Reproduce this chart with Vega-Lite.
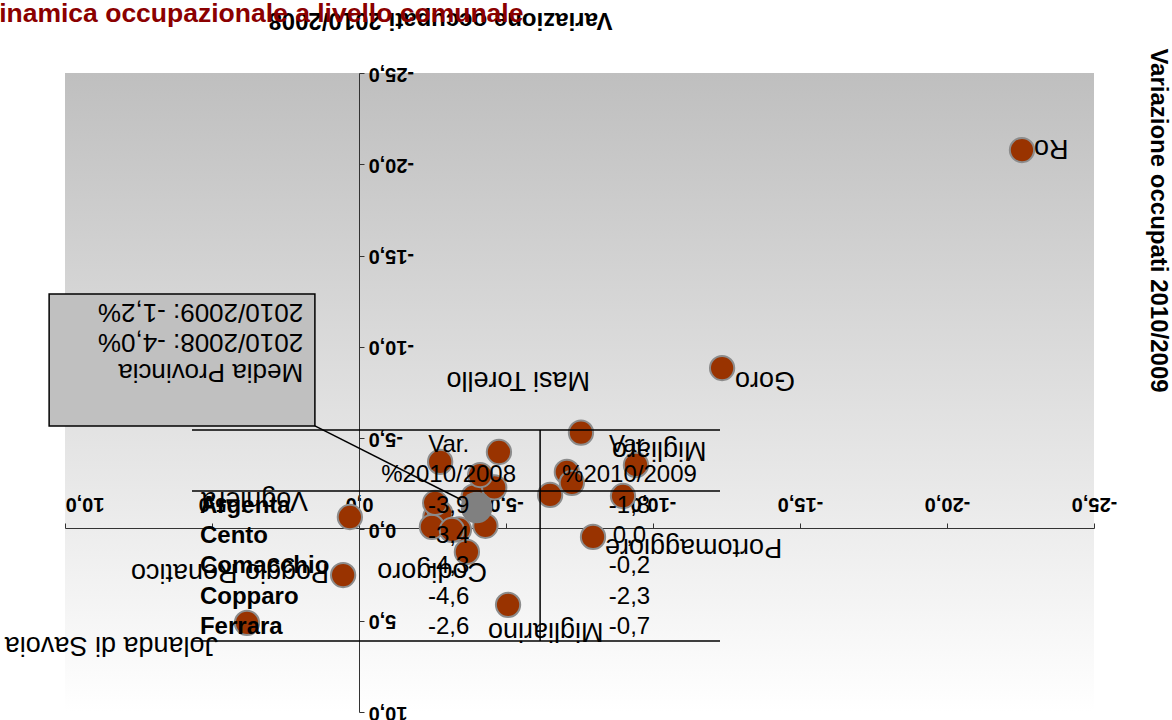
{
  "$schema": "https://vega.github.io/schema/vega-lite/v6.json",
  "width": 1029,
  "height": 639,
  "autosize": {"type": "none"},
  "padding": {"left": 65, "top": 73, "right": 78, "bottom": 8},
  "background": "white",
  "config": {
    "font": "Liberation Sans",
    "view": {"stroke": null, "fill": {"gradient": "linear", "x1": 0, "y1": 0, "x2": 0, "y2": 1, "stops": [{"offset": 0, "color": "#bfbfbf"}, {"offset": 1, "color": "#ffffff"}]}},
    "axis": {"grid": false, "domainColor": "#333333", "tickColor": "#333333", "labelColor": "#000000", "titleColor": "#000000", "labelFont": "Liberation Sans", "titleFont": "Liberation Sans", "labelOverlap": false, "labelFlush": false, "labelBound": false, "zindex": 0}
  },
  "title": {"text": "Dinamica occupazionale a livello comunale", "anchor": "start", "frame": "group", "color": "#8b0000", "font": "Liberation Sans", "fontSize": 26.5, "fontWeight": "bold", "dx": -85, "offset": -41, "baseline": "alphabetic"},
  "datasets": {
    "comuni": [
      {"comune": "Ro", "v08": -22.55, "v09": -20.78},
      {"comune": "Goro", "v08": -12.35, "v09": -8.84},
      {"comune": "Masi Torello", "v08": -7.55, "v09": -5.3},
      {"comune": "Migliaro", "v08": -9.42, "v09": -3.53},
      {"comune": "Portomaggiore", "v08": -7.96, "v09": 0.41},
      {"comune": "Codigoro", "v08": -3.67, "v09": 1.23},
      {"comune": "Migliarino", "v08": -5.07, "v09": 4.13},
      {"comune": "Voghiera", "v08": 0.31, "v09": -0.68},
      {"comune": "Poggio Renatico", "v08": 0.54, "v09": 2.5},
      {"comune": "Jolanda di Savoia", "v08": 3.81, "v09": 5.12},
      {"comune": "Argenta", "v08": -3.9, "v09": -1.8},
      {"comune": "Cento", "v08": -3.4, "v09": 0.0},
      {"comune": "Comacchio", "v08": -4.3, "v09": -0.2},
      {"comune": "Copparo", "v08": -4.6, "v09": -2.3},
      {"comune": "Ferrara", "v08": -2.6, "v09": -0.7},
      {"comune": "", "v08": -2.76, "v09": -3.7},
      {"comune": "", "v08": -4.76, "v09": -4.24},
      {"comune": "", "v08": -4.12, "v09": -2.98},
      {"comune": "", "v08": -6.5, "v09": -1.89},
      {"comune": "", "v08": -7.07, "v09": -3.15},
      {"comune": "", "v08": -7.24, "v09": -2.55},
      {"comune": "", "v08": -8.98, "v09": -1.83},
      {"comune": "", "v08": -2.76, "v09": -0.9},
      {"comune": "", "v08": -2.48, "v09": -0.14},
      {"comune": "", "v08": -3.16, "v09": 0.03},
      {"comune": "", "v08": -2.59, "v09": -1.45}
    ],
    "media": [
      {"comune": "Media Provincia", "v08": -4.0, "v09": -1.2}
    ],
    "tabella": [
      {"riga": "h1", "comune": "", "c08": "Var.", "c09": "Var."},
      {"riga": "h2", "comune": "", "c08": "%2010/2008", "c09": "%2010/2009"},
      {"riga": "Argenta", "comune": "Argenta", "c08": "-3,9", "c09": "-1,8"},
      {"riga": "Cento", "comune": "Cento", "c08": "-3,4", "c09": "0,0"},
      {"riga": "Comacchio", "comune": "Comacchio", "c08": "-4,3", "c09": "-0,2"},
      {"riga": "Copparo", "comune": "Copparo", "c08": "-4,6", "c09": "-2,3"},
      {"riga": "Ferrara", "comune": "Ferrara", "c08": "-2,6", "c09": "-0,7"}
    ]
  },
  "resolve": {"scale": {"y": "independent"}},
  "layer": [
    {
      "layer": [
        {
          "data": {"values": [{}]},
          "mark": {"type": "rule", "color": "#000000", "strokeWidth": 1.5},
          "encoding": {"x": {"datum": 1.5}, "y": {"datum": -5.67}, "x2": {"datum": -4.0}, "y2": {"datum": -1.2}}
        },
        {
          "data": {"name": "comuni"},
          "mark": {"type": "circle", "size": 590, "fill": "#993300", "stroke": "#8c8c8c", "strokeWidth": 2, "opacity": 1},
          "encoding": {
            "x": {"field": "v08", "type": "quantitative",
              "scale": {"domain": [-25, 10], "reverse": true, "nice": false, "zero": false},
              "axis": {"orient": "top", "offset": -455, "values": [10, 5, 0, -5, -10, -15, -20, -25],
                "labelExpr": "replace(replace(format(datum.value, '.1f'), '.', ','), '\u2212', '-')",
                "labelAngle": 180, "labelBaseline": "top",
                "labelAlign": {"condition": {"test": "datum.value == 10", "value": "right"}, "value": "center"},
                "labelFontSize": 20, "labelFontWeight": "bold", "labelPadding": 10, "tickSize": 5,
                "title": "Variazione occupati 2010/2008", "titleAngle": 180, "titleX": 375, "titleY": -509,
                "titleFontSize": 24, "titleFontWeight": "bold", "titleAlign": "center", "titleBaseline": "middle"}},
            "y": {"field": "v09", "type": "quantitative",
              "scale": {"domain": [-25, 10], "reverse": true, "nice": false, "zero": false},
              "axis": {"orient": "right", "offset": -735, "values": [-25, -20, -15, -10, -5, 0, 5, 10],
                "labelExpr": "replace(replace(format(datum.value, '.1f'), '.', ','), '\u2212', '-')",
                "labelAngle": 180, "labelAlign": "right", "labelBaseline": "middle",
                "labelFontSize": 20, "labelFontWeight": "bold", "labelPadding": 4, "tickSize": 5,
                "title": "Variazione occupati 2010/2009", "titleAngle": 90, "titleX": 798, "titleY": 147,
                "titleFontSize": 24, "titleFontWeight": "bold", "titleAlign": "center", "titleBaseline": "middle"}}
          }
        },
        {
          "data": {"name": "media"},
          "mark": {"type": "circle", "size": 1000, "fill": "#808080", "opacity": 1},
          "encoding": {"x": {"field": "v08", "type": "quantitative"}, "y": {"field": "v09", "type": "quantitative"}}
        },
        {
          "data": {"name": "comuni"},
          "layer": [
            {"transform": [{"filter": "datum.comune === 'Ro'"}], "mark": {"type": "text", "angle": 180, "align": "right", "baseline": "middle", "dx": -12, "dy": 2, "fontSize": 27, "color": "#000000"}},
            {"transform": [{"filter": "datum.comune === 'Goro'"}], "mark": {"type": "text", "angle": 180, "align": "right", "baseline": "middle", "dx": -13, "dy": -12, "fontSize": 27, "color": "#000000"}},
            {"transform": [{"filter": "datum.comune === 'Masi Torello'"}], "mark": {"type": "text", "angle": 180, "align": "left", "baseline": "middle", "dx": -9, "dy": 53, "fontSize": 27, "color": "#000000"}},
            {"transform": [{"filter": "datum.comune === 'Migliaro'"}], "mark": {"type": "text", "angle": 180, "align": "right", "baseline": "middle", "dx": 24, "dy": 15, "fontSize": 27, "color": "#000000"}},
            {"transform": [{"filter": "datum.comune === 'Portomaggiore'"}], "mark": {"type": "text", "angle": 180, "align": "right", "baseline": "middle", "dx": -12, "dy": -10, "fontSize": 27, "color": "#000000"}},
            {"transform": [{"filter": "datum.comune === 'Codigoro'"}], "mark": {"type": "text", "angle": 180, "align": "left", "baseline": "middle", "dx": -20, "dy": -19, "fontSize": 27, "color": "#000000"}},
            {"transform": [{"filter": "datum.comune === 'Migliarino'"}], "mark": {"type": "text", "angle": 180, "align": "right", "baseline": "middle", "dx": 20, "dy": -26, "fontSize": 27, "color": "#000000"}},
            {"transform": [{"filter": "datum.comune === 'Voghiera'"}], "mark": {"type": "text", "angle": 180, "align": "left", "baseline": "middle", "dx": 42, "dy": 17, "fontSize": 27, "color": "#000000"}},
            {"transform": [{"filter": "datum.comune === 'Poggio Renatico'"}], "mark": {"type": "text", "angle": 180, "align": "left", "baseline": "middle", "dx": 14, "dy": 3, "fontSize": 27, "color": "#000000"}},
            {"transform": [{"filter": "datum.comune === 'Jolanda di Savoia'"}], "mark": {"type": "text", "angle": 180, "align": "left", "baseline": "middle", "dx": 29, "dy": -22, "fontSize": 27, "color": "#000000"}}
          ],
          "encoding": {
            "x": {"field": "v08", "type": "quantitative"},
            "y": {"field": "v09", "type": "quantitative"},
            "text": {"field": "comune"}
          }
        },
        {
          "data": {"values": [{}]},
          "mark": {"type": "rect", "fill": "#c0c0c0", "stroke": "#000000", "strokeWidth": 1.5},
          "encoding": {"x": {"datum": 10.54}, "x2": {"datum": 1.5}, "y": {"datum": -12.9}, "y2": {"datum": -5.67}}
        },
        {
          "data": {"values": [{}]},
          "mark": {"type": "text", "text": ["Media Provincia", "2010/2008: -4,0%", "2010/2009: -1,2%"], "angle": 180, "align": "left", "baseline": "middle", "lineHeight": 30, "fontSize": 26, "color": "#000000"},
          "encoding": {"x": {"datum": 1.9}, "y": {"datum": -8.6}}
        },
        {
          "data": {"values": [{}]},
          "mark": {"type": "rule", "color": "#000000", "strokeWidth": 1.5},
          "encoding": {"x": {"datum": 5.68}, "x2": {"datum": -12.28}, "y": {"datum": -5.45}}
        },
        {
          "data": {"values": [{}]},
          "mark": {"type": "rule", "color": "#000000", "strokeWidth": 1.5},
          "encoding": {"x": {"datum": 5.68}, "x2": {"datum": -12.28}, "y": {"datum": -2.11}}
        },
        {
          "data": {"values": [{}]},
          "mark": {"type": "rule", "color": "#000000", "strokeWidth": 1.5},
          "encoding": {"x": {"datum": 5.68}, "x2": {"datum": -12.28}, "y": {"datum": 6.11}}
        },
        {
          "data": {"values": [{}]},
          "mark": {"type": "rule", "color": "#000000", "strokeWidth": 1.5},
          "encoding": {"x": {"datum": -6.16}, "y": {"datum": -5.45}, "y2": {"datum": 6.11}}
        }
      ]
    },
    {
      "data": {"name": "tabella"},
      "encoding": {
        "y": {"field": "riga", "type": "nominal", "sort": null,
          "scale": {"type": "point", "domain": ["h1", "h2", "Argenta", "Cento", "Comacchio", "Copparo", "Ferrara"], "range": [372, 554], "padding": 0},
          "axis": null}
      },
      "layer": [
        {"mark": {"type": "text", "align": "left", "baseline": "middle", "fontSize": 24, "fontWeight": "bold", "color": "#000000"},
         "encoding": {"x": {"datum": 5.41}, "text": {"field": "comune"}}},
        {"mark": {"type": "text", "align": "center", "baseline": "middle", "fontSize": 24, "color": "#000000"},
         "encoding": {"x": {"datum": -3.05}, "text": {"field": "c08"}}},
        {"mark": {"type": "text", "align": "center", "baseline": "middle", "fontSize": 24, "color": "#000000"},
         "encoding": {"x": {"datum": -9.2}, "text": {"field": "c09"}}}
      ]
    }
  ]
}
